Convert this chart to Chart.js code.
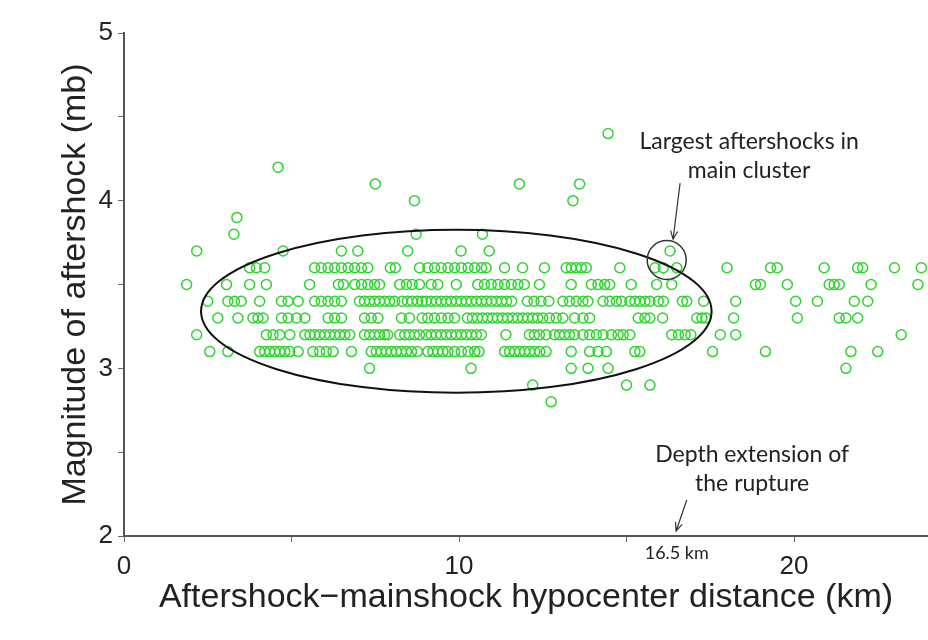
<!DOCTYPE html>
<html>
<head>
<meta charset="utf-8">
<script src="https://cdn.jsdelivr.net/npm/chart.js@4/dist/chart.umd.min.js"></script>
<style>
  html, body { margin: 0; padding: 0; background: #fff; }
  #wrap { width: 928px; height: 640px; }
</style>
</head>
<body>
<div id="wrap"><canvas id="myChart" width="928" height="640"></canvas></div>
<script>
// magnitude levels (mb) and the hypocenter distances (km) of aftershocks at each level
const magnitudes = [4.4, 4.2, 4.1, 4.0, 3.9, 3.8, 3.7, 3.6, 3.5, 3.4, 3.3, 3.2, 3.1, 3.0, 2.9, 2.8];

const dist44 = [14.45];
const dist42 = [4.6];
const dist41 = [7.5, 11.8, 13.6];
const dist40 = [8.67, 13.4];
const dist39 = [3.37];
const dist38 = [3.28, 8.72, 10.7];
const dist37 = [2.17, 4.75, 6.49, 6.98, 8.47, 10.06, 10.9, 16.3];
const dist36 = [3.75, 3.95, 4.2, 5.69, 5.89, 6.09, 6.29, 6.49, 6.69, 6.89, 7.09, 7.28, 7.95, 8.1, 8.82,
  9.07, 9.27, 9.47, 9.67, 9.87, 10.07, 10.27, 10.47, 10.67, 10.81, 11.36, 11.9, 12.55,
  13.2, 13.35, 13.5, 13.65, 13.8, 14.8, 15.85, 16.1, 16.5, 18.0, 19.3, 19.5, 20.9, 21.9, 22.05, 23.0, 23.8];
const dist35 = [1.87, 3.06, 3.75, 4.25, 5.54, 6.4, 6.55, 6.89, 7.09, 7.28, 7.48, 7.63, 8.23, 8.43, 8.6, 8.82,
  9.17, 9.37, 9.92, 10.56, 10.76, 10.96, 11.16, 11.36, 11.56, 11.76, 11.95, 12.4, 13.35, 13.95, 14.15,
  14.35, 14.5, 15.14, 15.9, 16.35, 18.85, 19.0, 19.8, 21.05, 21.2, 21.35, 22.3, 23.7];
const dist34 = [2.5, 3.1, 3.3, 3.5, 4.05, 4.7, 4.9, 5.2, 5.69, 5.89, 6.09, 6.29, 6.49, 7.03, 7.18, 7.33, 7.48,
  7.63, 7.78, 7.93, 8.08, 8.3, 8.46, 8.6, 8.76, 8.9, 9.02, 9.17, 9.32, 9.47, 9.62, 9.77, 9.92, 10.07, 10.22,
  10.37, 10.52, 10.67, 10.82, 10.97, 11.12, 11.27, 11.42, 11.57, 12.04, 12.24, 12.45, 12.68, 13.1, 13.3,
  13.5, 13.7, 13.85, 14.3, 14.5, 14.7, 14.85, 15.1, 15.25, 15.4, 15.55, 15.7, 15.95, 16.1, 16.67, 16.8,
  17.3, 18.26, 20.05, 20.7, 21.8, 22.2];
const dist33 = [2.8, 3.4, 3.85, 4.0, 4.15, 4.7, 4.9, 5.15, 5.4, 6.09, 6.29, 6.49, 7.18, 7.38, 7.58, 8.28, 8.52,
  8.9, 9.07, 9.27, 9.47, 9.67, 9.87, 10.25, 10.4, 10.55, 10.7, 10.85, 11.0, 11.15, 11.3, 11.45, 11.6, 11.75,
  11.9, 12.05, 12.2, 12.35, 12.5, 12.7, 12.9, 13.1, 13.45, 13.7, 13.9, 15.35, 15.55, 15.7, 16.08, 17.1,
  17.25, 17.37, 18.2, 20.1, 21.35, 21.55, 21.9];
const dist32 = [2.17, 4.25, 4.45, 4.65, 4.95, 5.4, 5.55, 5.69, 5.84, 5.99, 6.14, 6.29, 6.44, 6.59, 6.74, 7.18,
  7.33, 7.48, 7.63, 7.78, 7.87, 8.23, 8.38, 8.52, 8.67, 8.82, 9.02, 9.17, 9.32, 9.47, 9.62, 9.77, 9.92,
  10.07, 10.22, 10.37, 10.52, 10.67, 11.4, 12.1, 12.25, 12.4, 12.6, 12.85, 13.0, 13.15, 13.3, 13.45, 13.7,
  13.9, 14.1, 14.3, 14.55, 14.75, 14.9, 15.1, 16.35, 16.55, 16.75, 16.92, 17.8, 18.26, 23.2];
const dist31 = [2.56, 3.1, 4.05, 4.2, 4.35, 4.5, 4.65, 4.8, 4.95, 5.2, 5.64, 5.84, 6.04, 6.24, 6.79, 7.38, 7.53,
  7.68, 7.83, 7.98, 8.13, 8.28, 8.43, 8.58, 8.76, 9.07, 9.22, 9.37, 9.52, 9.67, 9.87, 10.07, 10.27, 10.47,
  10.6, 11.36, 11.51, 11.66, 11.81, 11.96, 12.11, 12.26, 12.41, 12.6, 13.35, 13.9, 14.15, 14.4, 15.25,
  15.4, 17.57, 19.15, 21.7, 22.5];
const dist30 = [7.33, 10.36, 13.35, 13.85, 14.45, 21.55];
const dist29 = [12.2, 15.0, 15.7];
const dist28 = [12.75];

const distances = [dist44, dist42, dist41, dist40, dist39, dist38, dist37, dist36, dist35, dist34,
  dist33, dist32, dist31, dist30, dist29, dist28];

// axis ticks
const xTickLabels = [0, 10, 20];
const yTickLabels = [2, 3, 4, 5];

const points = [];
magnitudes.forEach((m, i) => distances[i].forEach(d => points.push({ x: d, y: m })));

const textColor = "#222";

// ellipse, circle, arrows and notes drawn in data coordinates
const notes = {
  id: "notes",
  afterDatasetsDraw(chart) {
    const { ctx, scales: { x, y }, chartArea } = chart;
    ctx.save();

    // main cluster ellipse
    const cx = x.getPixelForValue(9.92), cy = y.getPixelForValue(3.34);
    const rx = x.getPixelForValue(9.92 + 7.62) - cx;
    const ry = cy - y.getPixelForValue(3.34 + 0.486);
    ctx.beginPath();
    ctx.ellipse(cx, cy, rx, ry, 0, 0, Math.PI * 2);
    ctx.strokeStyle = "#111";
    ctx.lineWidth = 2;
    ctx.stroke();

    // largest aftershocks circle
    ctx.beginPath();
    ctx.arc(x.getPixelForValue(16.2), y.getPixelForValue(3.646), 19.5, 0, Math.PI * 2);
    ctx.lineWidth = 1.5;
    ctx.strokeStyle = "#333";
    ctx.stroke();

    function arrow(x0, y0, x1, y1) {
      const ax = x.getPixelForValue(x0), ay = y.getPixelForValue(y0);
      const bx = x.getPixelForValue(x1), by = y.getPixelForValue(y1);
      const ang = Math.atan2(by - ay, bx - ax);
      ctx.beginPath();
      ctx.moveTo(ax, ay);
      ctx.lineTo(bx, by);
      ctx.moveTo(bx - 9 * Math.cos(ang - 0.4), by - 9 * Math.sin(ang - 0.4));
      ctx.lineTo(bx, by);
      ctx.lineTo(bx - 9 * Math.cos(ang + 0.4), by - 9 * Math.sin(ang + 0.4));
      ctx.strokeStyle = "#333";
      ctx.lineWidth = 1.2;
      ctx.stroke();
    }
    arrow(16.6, 4.105, 16.39, 3.77);
    arrow(16.8, 2.215, 16.48, 2.03);

    ctx.fillStyle = textColor;
    ctx.textAlign = "center";
    ctx.textBaseline = "middle";
    ctx.font = "23px Lato";
    ctx.fillText("Largest aftershocks in", x.getPixelForValue(18.66), y.getPixelForValue(4.355));
    ctx.fillText("main cluster", x.getPixelForValue(18.66), y.getPixelForValue(4.177));
    ctx.fillText("Depth extension of", x.getPixelForValue(18.75), y.getPixelForValue(2.483));
    ctx.fillText("the rupture", x.getPixelForValue(18.75), y.getPixelForValue(2.31));
    ctx.font = "18px Lato";
    ctx.fillText("16.5 km", x.getPixelForValue(16.5), chartArea.bottom + 17);
    ctx.restore();
  }
};

const ctx = document.getElementById("myChart").getContext("2d");
const quakeChart = new Chart(ctx, {
  type: "scatter",
  data: {
    datasets: [{
      label: "Aftershocks",
      data: points,
      pointStyle: "circle",
      pointRadius: 5,
      pointBorderWidth: 1.5,
      borderColor: "#2fd42f",
      backgroundColor: "rgba(0,0,0,0)",
      pointHoverRadius: 5
    }]
  },
  options: {
    responsive: false,
    animation: false,
    devicePixelRatio: 1,
    layout: { autoPadding: false, padding: { top: 33, right: 0, left: 0, bottom: 0 } },
    plugins: { legend: { display: false }, tooltip: { enabled: false } },
    scales: {
      x: {
        type: "linear",
        min: 0,
        max: 24,
        afterFit(scale) {
          scale.height = 104;
          scale.paddingLeft = 0;
          scale.paddingRight = 0;
        },
        border: { color: "#555", width: 2 },
        grid: { drawOnChartArea: false, drawTicks: true, tickLength: 6, tickColor: "#666" },
        ticks: {
          stepSize: 5,
          padding: 9,
          color: textColor,
          font: { family: "Liberation Sans", size: 26 },
          callback: v => xTickLabels.includes(v) ? String(v) : ""
        },
        title: {
          display: true,
          text: "Aftershock\u2212mainshock hypocenter distance (km)",
          color: textColor,
          font: { family: "Liberation Sans", size: 34 },
          padding: { top: 0, bottom: 22 }
        }
      },
      y: {
        type: "linear",
        min: 2,
        max: 5,
        afterFit(scale) { scale.width = 124; },
        border: { color: "#555", width: 2 },
        grid: { drawOnChartArea: false, drawTicks: true, tickLength: 6, tickColor: "#666" },
        ticks: {
          stepSize: 0.5,
          padding: 5,
          color: textColor,
          font: { family: "Liberation Sans", size: 26 },
          callback: v => yTickLabels.includes(v) ? String(v) : ""
        },
        title: {
          display: true,
          text: "Magnitude of aftershock (mb)",
          color: textColor,
          font: { family: "Liberation Sans", size: 34 },
          padding: { top: 55, bottom: 0 }
        }
      }
    }
  },
  plugins: [notes]
});
</script>
</body>
</html>
